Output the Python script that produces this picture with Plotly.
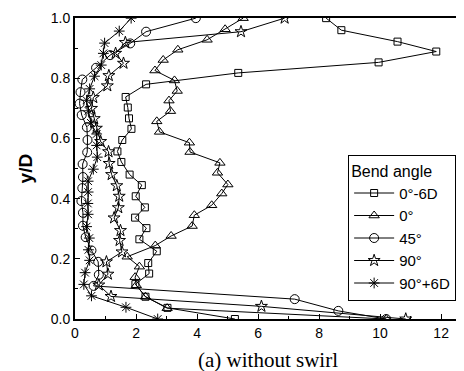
import plotly.graph_objects as go

# ---- data ----
sq_y = [1.0, 0.96, 0.922, 0.889, 0.853, 0.818, 0.78, 0.738, 0.703, 0.667, 0.632, 0.595, 0.557, 0.522,
        0.48, 0.445, 0.408, 0.371, 0.337, 0.302, 0.265, 0.225, 0.186, 0.151, 0.116, 0.074, 0.037, 0.0]
sq_x = [8.23, 8.73, 10.57, 11.84, 9.95, 5.35, 2.33, 1.66, 1.73, 1.77, 1.85, 1.55, 1.39, 1.52,
        1.79, 2.19, 1.99, 2.29, 1.97, 2.34, 2.11, 2.68, 2.40, 2.43, 1.98, 2.31, 3.03, 5.24]

tri_y = [1.0, 0.963, 0.928, 0.895, 0.861, 0.826, 0.793, 0.758, 0.726, 0.691, 0.657, 0.622, 0.586, 0.555,
         0.519, 0.486, 0.447, 0.417, 0.378, 0.345, 0.309, 0.276, 0.244, 0.207, 0.174, 0.139, 0.112,
         0.074, 0.036, 0.0]
tri_x = [5.51, 4.92, 4.33, 3.37, 2.89, 2.62, 3.26, 3.35, 3.08, 3.13, 2.68, 2.77, 3.75, 3.77,
         4.75, 4.67, 5.01, 4.81, 4.48, 3.91, 3.84, 3.15, 2.63, 1.71, 2.11, 1.97, 2.01,
         2.31, 3.02, 10.2]

cir_y = [1.0, 0.955, 0.916, 0.877, 0.835, 0.796, 0.754, 0.716, 0.678, 0.637, 0.595, 0.554, 0.515,
         0.472, 0.435, 0.392, 0.353, 0.31, 0.272, 0.228, 0.19, 0.147, 0.11, 0.066, 0.027, 0.0]
cir_x = [3.96, 2.33, 1.81, 1.15, 0.69, 0.24, 0.18, 0.15, 0.22, 0.39, 0.41, 0.40, 0.25,
         0.26, 0.24, 0.21, 0.26, 0.26, 0.35, 0.54, 0.76, 0.78, 0.61, 7.2, 8.63, 10.2]

star_y = [1.0, 0.955, 0.919, 0.883, 0.85, 0.809, 0.775, 0.736, 0.70, 0.666, 0.634, 0.59, 0.556, 0.517,
          0.48, 0.443, 0.408, 0.37, 0.336, 0.294, 0.261, 0.223, 0.19, 0.149, 0.113, 0.075, 0.042, 0.0]
star_x = [6.87, 5.44, 1.65, 1.33, 1.59, 1.11, 1.06, 0.6, 0.54, 0.63, 0.7, 0.84, 1.1, 1.12,
          1.2, 1.37, 1.45, 1.42, 1.28, 1.49, 1.46, 1.54, 1.03, 1.08, 0.78, 1.18, 6.11, 10.84]

ast_y = [1.0, 0.957, 0.917, 0.883, 0.844, 0.807, 0.765, 0.727, 0.692, 0.652, 0.615, 0.577, 0.538,
         0.498, 0.458, 0.422, 0.384, 0.348, 0.307, 0.269, 0.23, 0.195, 0.154, 0.115, 0.077, 0.039, 0.0]
ast_x = [1.84, 1.45, 0.97, 0.93, 0.86, 0.64, 0.48, 0.38, 0.44, 0.52, 0.71, 0.71, 0.73,
         0.6, 0.43, 0.43, 0.42, 0.43, 0.38, 0.47, 0.44, 0.48, 0.33, 0.29, 0.54, 1.67, 2.71]

series_names = ["0°-6D", "0°", "45°", "90°", "90°+6D"]
x_ticks = [0, 2, 4, 6, 8, 10, 12]
y_ticks = [0.0, 0.2, 0.4, 0.6, 0.8, 1.0]
y_tick_labels = ["0.0", "0.2", "0.4", "0.6", "0.8", "1.0"]

# ---- figure ----
fig = go.Figure()
specs = [
    (sq_x, sq_y, "square-open", 7),
    (tri_x, tri_y, "triangle-up-open", 9),
    (cir_x, cir_y, "circle-open", 9),
    (star_x, star_y, "star-open", 9),
    (ast_x, ast_y, "asterisk-open", 9),
]
for (xs, ys, sym, sz), name in zip(specs, series_names):
    fig.add_trace(go.Scatter(
        x=xs, y=ys, name=name, mode="lines+markers",
        line=dict(color="black", width=1),
        marker=dict(symbol=sym, size=sz, color="black", line=dict(color="black", width=1)),
    ))

axis_common = dict(
    showline=True, linecolor="black", linewidth=2, mirror=True,
    ticks="inside", ticklen=5, tickcolor="black", showgrid=False, zeroline=False,
    tickfont=dict(family="Liberation Sans, Arial", size=14, color="black"),
)
fig.update_xaxes(range=[0, 12.88], tickvals=x_ticks,
                 minor=dict(dtick=1, ticks="inside", ticklen=3, tickcolor="black"),
                 **axis_common)
fig.update_yaxes(range=[0, 1.0005], tickvals=y_ticks, ticktext=y_tick_labels,
                 minor=dict(dtick=0.1, ticks="inside", ticklen=3, tickcolor="black"),
                 **axis_common)

fig.add_annotation(text="<b>y/D</b>", xref="paper", yref="paper", x=-0.125, y=0.5,
                   xanchor="center", yanchor="middle",
                   textangle=-90, showarrow=False,
                   font=dict(family="Liberation Sans, Arial", size=19, color="black"))
fig.add_annotation(text="(a) without swirl", xref="paper", yref="paper", x=0.49, y=-0.135,
                   xanchor="center", yanchor="middle", showarrow=False,
                   font=dict(family="Liberation Serif, Times New Roman", size=21, color="black"))

fig.update_layout(
    width=464, height=371,
    margin=dict(l=67, r=2, t=8, b=60),
    paper_bgcolor="white", plot_bgcolor="white",
    showlegend=True,
    legend=dict(
        x=0.695, y=0.545, xanchor="left", yanchor="top",
        bgcolor="white", bordercolor="black", borderwidth=1,
        itemwidth=40,
        font=dict(family="Liberation Sans, Arial", size=15, color="black"),
        title=dict(text="Bend angle", font=dict(family="Liberation Sans, Arial", size=16, color="black")),
        tracegroupgap=0,
    ),
)

fig.write_html("out.html")
